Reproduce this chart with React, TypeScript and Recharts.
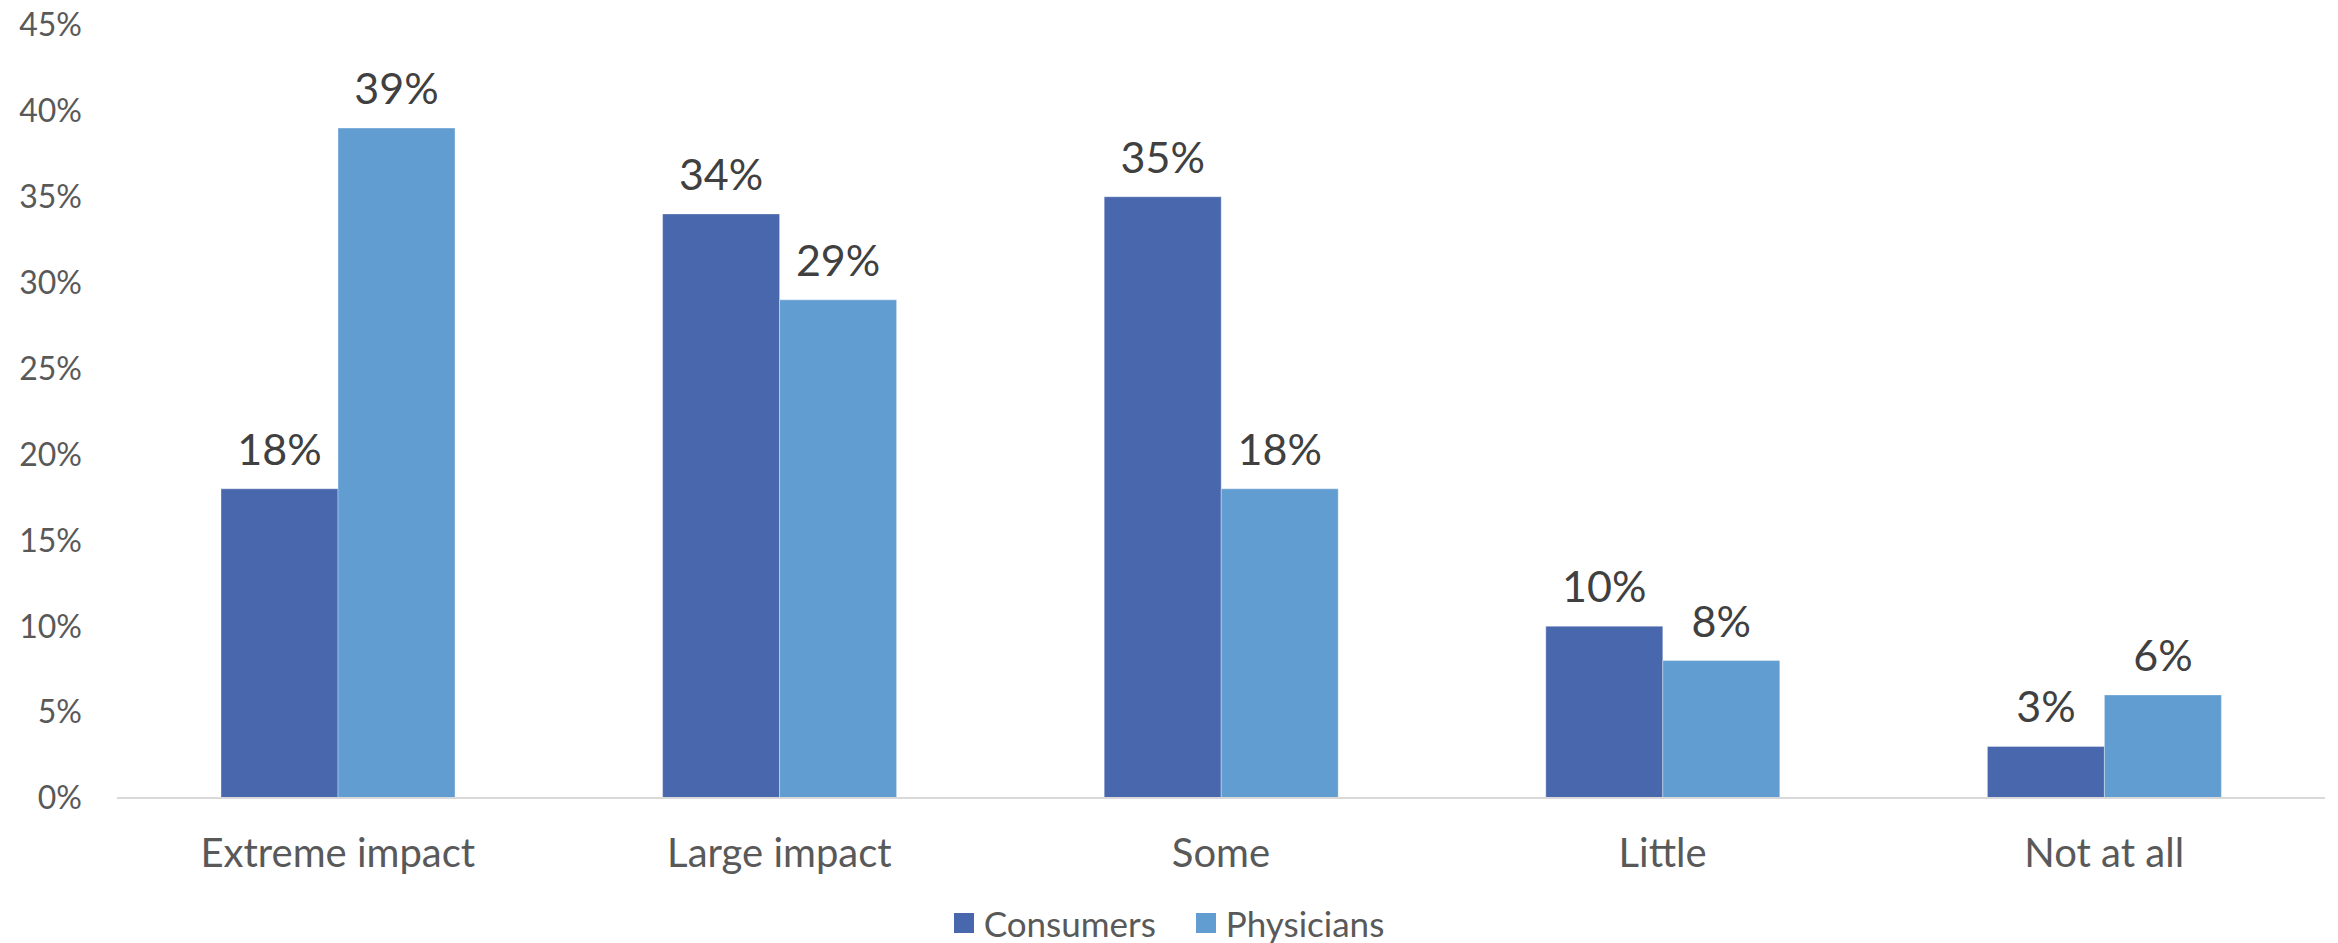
import React from 'react';
import { BarChart, Bar, XAxis, YAxis, LabelList, Legend } from 'recharts';

const categories = ['Extreme impact', 'Large impact', 'Some', 'Little', 'Not at all'];
const consumers = [18, 34, 35, 10, 3];
const physicians = [39, 29, 18, 8, 6];
const yTicks = [0, 5, 10, 15, 20, 25, 30, 35, 40, 45];

const data = categories.map((c, i) => ({ category: c, Consumers: consumers[i], Physicians: physicians[i] }));

const FONT = 'Lato, "Open Sans", sans-serif';
const C1 = '#4967AC';
const C2 = '#629DD1';

const renderLegend = () => (
  <div
    style={{
      display: 'flex',
      justifyContent: 'center',
      alignItems: 'center',
      height: 40,
      fontFamily: FONT,
      fontSize: 35,
      color: '#595959',
    }}
  >
    {[
      { name: 'Consumers', color: C1 },
      { name: 'Physicians', color: C2 },
    ].map((it, i) => (
      <div key={it.name} style={{ display: 'flex', alignItems: 'center', marginLeft: i === 0 ? 0 : 40 }}>
        <span style={{ display: 'inline-block', width: 20, height: 20, background: it.color, marginRight: 10 }} />
        <span>{it.name}</span>
      </div>
    ))}
  </div>
);

export default function App() {
  return (
    <div style={{ position: 'absolute', left: 0, top: 0, width: 2338, height: 943, background: '#fff' }}>
      <BarChart
        width={2338}
        height={943}
        data={data}
        margin={{ top: 25, right: 13, bottom: 25, left: 0 }}
        barCategoryGap={104}
        barGap={0}
      >
        <XAxis
          dataKey="category"
          tickLine={false}
          tickSize={0}
          tickMargin={41}
          height={80}
          axisLine={{ stroke: '#D9D9D9', strokeWidth: 2 }}
          tick={{ fill: '#595959', fontSize: 40, fontFamily: FONT }}
          interval={0}
        />
        <YAxis
          width={117}
          domain={[0, 45]}
          ticks={yTicks}
          interval={0}
          axisLine={false}
          tickLine={false}
          tickSize={0}
          tickMargin={35}
          tickFormatter={(v: number) => `${v}%`}
          tick={{ fill: '#595959', fontSize: 32, fontFamily: FONT }}
        />
        <Legend
          verticalAlign="bottom"
          content={renderLegend}
          wrapperStyle={{ top: 903, bottom: 'auto', left: 0, width: 2338, height: 40 }}
        />
        <Bar dataKey="Consumers" fill={C1} stroke="#ffffff" strokeOpacity={0.35} strokeWidth={1} isAnimationActive={false}>
          <LabelList
            dataKey="Consumers"
            position="top"
            offset={24}
            formatter={(v: number) => `${v}%`}
            style={{ fill: '#404040', fontSize: 43, fontFamily: FONT }}
          />
        </Bar>
        <Bar dataKey="Physicians" fill={C2} stroke="#ffffff" strokeOpacity={0.35} strokeWidth={1} isAnimationActive={false}>
          <LabelList
            dataKey="Physicians"
            position="top"
            offset={24}
            formatter={(v: number) => `${v}%`}
            style={{ fill: '#404040', fontSize: 43, fontFamily: FONT }}
          />
        </Bar>
      </BarChart>
    </div>
  );
}
